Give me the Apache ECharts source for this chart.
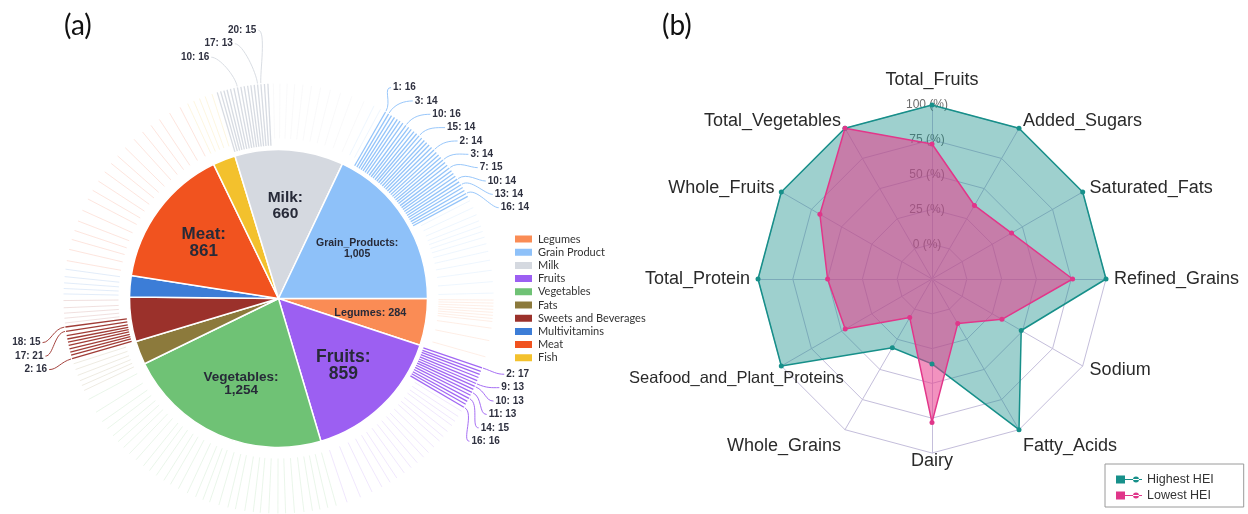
<!DOCTYPE html>
<html>
<head>
<meta charset="utf-8">
<script src="https://cdn.jsdelivr.net/npm/echarts@6/dist/echarts.min.js"></script>
<style>
  html, body { margin: 0; padding: 0; background: #ffffff; }
  #main { width: 1248px; height: 514px; }
</style>
</head>
<body>
<div id="main"></div>
<script>
// ---------- (a) food groups: inner pie, clockwise from 3 o'clock ----------
const categories = ['Legumes', 'Fruits', 'Vegetables', 'Fats', 'Sweets and Beverages',
  'Multivitamins', 'Meat', 'Fish', 'Milk', 'Grain Product'];
const categoryTotals = [284, 859, 1254, 143, 270, 129, 861, 137, 660, 1005];
const sliceLabels = ['Legumes', 'Fruits', 'Vegetables', null, null, null, 'Meat', null, 'Milk', 'Grain_Products'];
const legendOrder = ['Legumes', 'Grain Product', 'Milk', 'Fruits', 'Vegetables', 'Fats',
  'Sweets and Beverages', 'Multivitamins', 'Meat', 'Fish'];

// item counts of the outer ring, in order around each group
const ringLegumes = [13, 12, 14, 12, 13, 12, 14, 11, 45, 60, 78];
const ringFruits = [17, 14, 13, 15, 13, 13, 13, 14, 13, 14, 15, 14, 13, 16,
  22, 30, 18, 26, 35, 20, 28, 40, 24, 32, 38, 27, 45, 30, 36, 42, 50, 55, 64];
const ringVegetables = [30, 42, 25, 38, 33, 46, 28, 36, 40, 31, 27, 44, 35, 29, 48, 33, 26,
  39, 37, 45, 30, 34, 41, 28, 36, 43, 32, 38, 29, 35, 40, 33, 60, 63];
const ringFats = [20, 25, 18, 30, 22, 28];
const ringSweets = [16, 14, 13, 15, 14, 13, 14, 15, 21, 15, 18, 22, 20, 25, 35];
const ringMultivitamins = [20, 25, 22, 30, 32];
const ringMeat = [40, 55, 30, 48, 36, 60, 44, 38, 52, 41, 47, 35, 58, 43, 50, 39, 46, 54, 45];
const ringFish = [25, 30, 22, 28, 32];
const ringMilk = [14, 15, 13, 14, 15, 14, 16, 13, 15, 14, 13, 15, 13, 15, 14, 15,
  30, 25, 35, 28, 40, 32, 45, 38, 50, 48, 61];
const ringGrain = [30, 31,
  16, 14, 14, 15, 13, 14, 15, 16, 13, 14, 15, 13, 14, 15, 14, 13, 15, 14,
  14, 15, 13, 14, 14, 13, 15, 15, 14, 13, 15, 14, 14, 14, 13, 15, 14, 13,
  28, 35, 30, 25, 22, 24, 26, 30, 35, 40, 45, 50, 45];

// selected items of the ring: [first index, end index)
const focusFruits = [0, 14];
const focusSweets = [0, 10];
const focusMilk = [0, 16];
const focusGrain = [2, 38];

// labelled items: ring index and item id
const grainLabelItems = [2, 3, 9, 14, 20, 24, 27, 31, 33, 36];
const grainLabelIds = [1, 3, 10, 15, 2, 3, 7, 10, 13, 16];
const fruitsLabelItems = [0, 5, 6, 8, 10, 13];
const fruitsLabelIds = [2, 9, 10, 11, 14, 16];
const sweetsLabelItems = [9, 8, 0];
const sweetsLabelIds = [18, 17, 2];
const milkLabelItems = [6, 12, 13];
const milkLabelIds = [10, 17, 20];

// ---------- (b) HEI components: radar, counter-clockwise from top ----------
const radarAxes = ['Total_Fruits', 'Total_Vegetables', 'Whole_Fruits', 'Total_Protein',
  'Seafood_and_Plant_Proteins', 'Whole_Grains', 'Dairy', 'Fatty_Acids', 'Sodium',
  'Refined_Grains', 'Saturated_Fats', 'Added_Sugars'];
const highestHEI = [100, 100, 100, 100, 100, 32, 36, 100, 49, 100, 100, 100];
const lowestHEI = [72, 100, 68, 50, 47, 7, 78, 12, 33, 76, 41, 36];
const radarSeriesNames = ['Highest HEI', 'Lowest HEI'];

// ---------- styling ----------
const catColors = ['#fa8c55', '#9c5ff2', '#6fc275', '#8c7a3c', '#9b312b',
  '#3c7dd7', '#f1531f', '#f3c12d', '#d5d9e0', '#8ec1f9'];
const sliceFont = { Legumes: [10.8, 12], Fruits: [17.5, 17], Vegetables: [13.5, 13],
  Meat: [17, 17], Milk: [15.5, 16], 'Grain Product': [10.5, 11] };
const PIE_C = [278.5, 298.5];
const PIE_R = 149;
const RING_IN = 153, FAINT_IN = 160, RING_OUT = 215, TIP = 216, BEND = 227;

const total = categoryTotals.reduce((s, v) => s + v, 0);
const ringByCat = [ringLegumes, ringFruits, ringVegetables, ringFats, ringSweets,
  ringMultivitamins, ringMeat, ringFish, ringMilk, ringGrain];
const focusByCat = { 1: focusFruits, 4: focusSweets, 8: focusMilk, 9: focusGrain };

// angle-axis position (centre of each ring item) from cumulative counts
const ringLines = [];
const itemCentre = [];
let groupStart = 0;
categoryTotals.forEach((t, c) => {
  let cum = groupStart;
  const centres = [];
  ringByCat[c].forEach((v, i) => {
    const mid = cum + v / 2;
    centres.push(mid);
    const f = focusByCat[c];
    ringLines.push([mid, c, f && i >= f[0] && i < f[1] ? 1 : 0]);
    cum += v;
  });
  itemCentre.push(centres);
  groupStart += t;
});

// label groups and how their labels are stacked
const labelGroups = [
  { cat: 9, items: grainLabelItems, ids: grainLabelIds, layout: { r: 240, deg: 298.5, step: 13.35, side: 'right' } },
  { cat: 1, items: fruitsLabelItems, ids: fruitsLabelIds, layout: { r: 240, deg: 18.4, step: 13.4, side: 'right' } },
  { cat: 4, items: sweetsLabelItems, ids: sweetsLabelIds, layout: { r: 242, deg: 169.5, step: 13.5, side: 'left' } },
  { cat: 8, items: milkLabelItems, ids: milkLabelIds, layout: { r: 251, deg: 254, dx: 23.5, step: -13.5, side: 'left' } }
];
const labelData = [];
const labelInfo = [];
labelGroups.forEach(g => {
  g.items.forEach((idx, k) => {
    labelData.push([itemCentre[g.cat][idx], g.cat]);
    labelInfo.push({ k, layout: g.layout, text: g.ids[k] + ': ' + ringByCat[g.cat][idx] });
  });
});

const fmt = v => v.toLocaleString('en-US');

const pieData = categories.map((n, i) => ({ name: n, value: categoryTotals[i], itemStyle: { color: catColors[i] } }));
const pieLabelData = categories.map((n, i) => {
  const lbl = sliceLabels[i];
  const f = sliceFont[n];
  return {
    name: n, value: categoryTotals[i],
    label: lbl ? {
      show: true,
      formatter: n === 'Legumes' ? lbl + ': ' + fmt(categoryTotals[i]) : lbl + ':\n' + fmt(categoryTotals[i]),
      fontSize: f[0], lineHeight: f[1]
    } : { show: false }
  };
});

const chart = echarts.init(document.getElementById('main'), null, { width: 1248, height: 514 });

const radarIndicators = radarAxes.map(name => {
  const ind = { name, min: -25, max: 100 };
  if (name === 'Total_Fruits') {
    ind.axisLabel = { show: true };
    ind.nameTextStyle = { padding: [0, 0, 8, 0] };
  }
  if (name === 'Seafood_and_Plant_Proteins') ind.nameTextStyle = { align: 'center', verticalAlign: 'top', padding: [0, 76, 0, 0], fontSize: 16.5 };
  if (name === 'Dairy') ind.nameTextStyle = { verticalAlign: 'middle', padding: [8, 0, 0, 0] };
  if (name === 'Fatty_Acids' || name === 'Whole_Grains') ind.nameTextStyle = { verticalAlign: 'top' };
  return ind;
});

chart.setOption({
  animation: false,
  backgroundColor: '#ffffff',
  graphic: [
    { type: 'text', left: 64, top: 12, style: { text: '(a)', font: '28px Lato', fill: '#111' } },
    { type: 'text', left: 662, top: 12, style: { text: '(b)', font: '28px Lato', fill: '#111' } }
  ],
  legend: [
    {
      data: legendOrder, orient: 'vertical', left: 508, top: 228,
      itemWidth: 19, itemHeight: 9, itemGap: 1.2, icon: 'rect',
      textStyle: { fontSize: 11, lineHeight: 12, color: '#333', fontFamily: 'Lato' },
      selectedMode: false
    },
    {
      data: radarSeriesNames, orient: 'vertical', left: 1105, top: 464,
      itemWidth: 26, itemHeight: 10, itemGap: 3,
      icon: 'path://M0,1L9,1L9,9L0,9Z M9,4.4L26,4.4L26,5.6L9,5.6Z M17,5A3,3,0,1,0,23,5A3,3,0,1,0,17,5Z',
      textStyle: { fontSize: 12.5, color: '#333', fontFamily: 'Liberation Sans' },
      borderColor: '#9a9a9a', borderWidth: 1, padding: [9, 30, 5, 11],
      selectedMode: false
    }
  ],
  polar: { center: PIE_C, radius: 300 },
  angleAxis: {
    type: 'value', min: 0, max: total, startAngle: 0, clockwise: true,
    axisLine: { show: false }, axisTick: { show: false }, axisLabel: { show: false },
    splitLine: { show: false }
  },
  radiusAxis: {
    type: 'value', min: 0, max: 300,
    axisLine: { show: false }, axisTick: { show: false }, axisLabel: { show: false },
    splitLine: { show: false }
  },
  radar: {
    center: [932, 279], radius: 174, startAngle: 90, splitNumber: 5, shape: 'polygon',
    indicator: radarIndicators,
    nameGap: 8,
    axisName: { color: '#2a2a2a', fontSize: 18, fontFamily: 'Liberation Sans' },
    splitLine: { lineStyle: { color: '#c4bedb', width: 1 } },
    splitArea: { show: false },
    axisLine: { lineStyle: { color: '#c4bedb', width: 1 } },
    axisTick: { show: false },
    axisLabel: {
      show: false, margin: 0, align: 'center', verticalAlign: 'middle', padding: [0, 10, 3, 0],
      color: '#6d6d6d', fontSize: 12, fontFamily: 'Liberation Sans',
      formatter: v => (v < 0 ? '' : v + ' (%)')
    }
  },
  series: [
    {
      type: 'pie', center: PIE_C, radius: [0, PIE_R], startAngle: 0, clockwise: true,
      data: pieData, silent: true, z: 3,
      label: { show: false }, labelLine: { show: false },
      itemStyle: { borderColor: '#ffffff', borderWidth: 1.5 }
    },
    {
      type: 'pie', center: PIE_C, radius: [31, PIE_R], startAngle: 0, clockwise: true,
      data: pieLabelData, silent: true, z: 4, avoidLabelOverlap: false,
      itemStyle: { color: 'rgba(0,0,0,0)', borderWidth: 0 },
      label: { position: 'inside', color: '#272a38', fontWeight: 'bold', fontFamily: 'Liberation Sans' },
      labelLine: { show: false }, emphasis: { disabled: true }
    },
    {
      type: 'custom', coordinateSystem: 'polar', silent: true, z: 2,
      data: ringLines,
      renderItem: (params, api) => {
        const a = api.value(0), c = api.value(1), f = api.value(2);
        const p0 = api.coord([f ? RING_IN : FAINT_IN, a]);
        const p1 = api.coord([RING_OUT, a]);
        return {
          type: 'line',
          shape: { x1: p0[0], y1: p0[1], x2: p1[0], y2: p1[1] },
          style: { stroke: catColors[c], lineWidth: f ? 1.3 : 0.9, opacity: f ? 0.95 : 0.17 }
        };
      }
    },
    {
      type: 'custom', coordinateSystem: 'polar', silent: true, z: 5,
      data: labelData,
      renderItem: (params, api) => {
        const info = labelInfo[params.dataIndex];
        const L = info.layout;
        const a = api.value(0), c = api.value(1);
        const centre = api.coord([0, 0]);
        const first = api.coord([L.r, L.deg / 360 * total]);
        const rPx = Math.hypot(first[0] - centre[0], first[1] - centre[1]);
        let x, y;
        if (L.dx != null) {
          x = first[0] + info.k * L.dx;
          y = first[1] + info.k * L.step;
        } else {
          y = first[1] + info.k * L.step;
          const dy = y - centre[1];
          const half = Math.sqrt(Math.max(rPx * rPx - dy * dy, 0));
          x = centre[0] + (L.side === 'right' ? half : -half);
        }
        const s = L.side === 'right' ? 1 : -1;
        const p0 = api.coord([TIP, a]);
        const c1 = api.coord([BEND, a]);
        return {
          type: 'group',
          children: [
            {
              type: 'bezierCurve',
              shape: { x1: p0[0], y1: p0[1], cpx1: c1[0], cpy1: c1[1],
                       cpx2: x - s * 10, cpy2: y, x2: x - s * 2, y2: y },
              style: { stroke: catColors[c], lineWidth: 1, fill: null, opacity: 0.9 }
            },
            {
              type: 'text', x: x, y: y,
              style: { text: info.text, fill: '#2f3140', font: 'bold 10px "Liberation Sans"',
                       align: L.side === 'right' ? 'left' : 'right', verticalAlign: 'middle' }
            }
          ]
        };
      }
    },
    {
      type: 'radar', radarIndex: 0, symbol: 'circle', symbolSize: 5, silent: true,
      data: [
        {
          name: radarSeriesNames[0], value: highestHEI,
          lineStyle: { color: '#17908a', width: 1.5 }, itemStyle: { color: '#17908a' },
          areaStyle: { color: '#17908a', opacity: 0.42 }
        },
        {
          name: radarSeriesNames[1], value: lowestHEI,
          lineStyle: { color: '#e0368a', width: 1.5 }, itemStyle: { color: '#e0368a' },
          areaStyle: { color: '#e8388a', opacity: 0.55 }
        }
      ]
    }
  ]
});
</script>
</body>
</html>
